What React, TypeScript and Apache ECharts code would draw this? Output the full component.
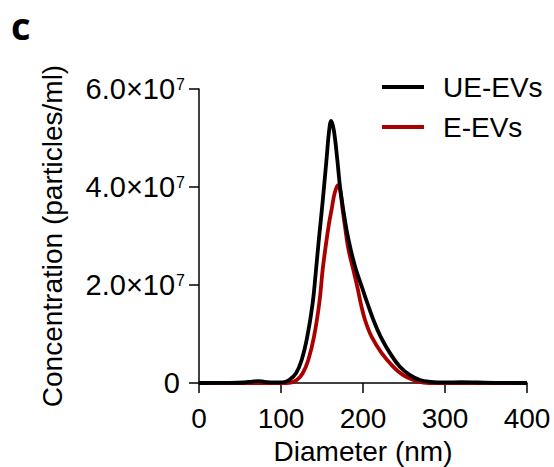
import React, { useEffect, useRef } from "react";
import * as echarts from "echarts";

// Diameter (nm) and concentration (×10^7 particles/ml)
const diameterUE = [0, 30, 55, 65, 72, 80, 90, 100, 104, 110, 118.3, 125.2, 132, 138.6, 142.7, 146, 150.8, 155.7, 158.5, 161.2, 164.5, 168.7, 172, 176, 180, 184, 188, 191.5, 198.4, 205.3, 212.6, 221.6, 232.9, 245, 257.3, 269.5, 281.7, 300, 320, 340, 360, 400];
const concUE = [0, 0.003, 0.01, 0.03, 0.04, 0.025, 0.012, 0.012, 0.02, 0.06, 0.2, 0.47, 0.94, 1.63, 2.31, 2.9, 3.7, 4.6, 5.12, 5.35, 5.15, 4.55, 4.0, 3.53, 3.12, 2.8, 2.52, 2.31, 1.97, 1.63, 1.29, 0.94, 0.61, 0.33, 0.16, 0.06, 0.025, 0.012, 0.015, 0.01, 0.004, 0];

const diameterE = [0, 100, 112, 119.2, 126.5, 133.3, 140.2, 146.7, 150.8, 155, 158.5, 161.8, 165.5, 169.5, 172.5, 175.2, 178, 182, 188.2, 193, 197.2, 202.4, 210.6, 222.8, 237, 249, 261.3, 273.6, 290, 400];
const concE = [0, 0, 0.01, 0.06, 0.2, 0.47, 0.94, 1.63, 2.31, 2.85, 3.25, 3.55, 3.88, 4.04, 3.9, 3.53, 3.2, 2.75, 2.31, 1.97, 1.63, 1.29, 0.94, 0.61, 0.33, 0.16, 0.06, 0.01, 0, 0];

const UNIT = 1e7;
const seriesNames = ["UE-EVs", "E-EVs"];
const xTicks = { min: 0, max: 400, interval: 100 };
const yTicks = { min: 0, max: 6e7, interval: 2e7 };

const FONT = "Liberation Sans, Arial, sans-serif";

export default function App() {
  const ref = useRef<HTMLDivElement>(null);
  useEffect(() => {
    if (!ref.current) return;
    const chart = echarts.init(ref.current, null, { renderer: "svg" });
    const ue = diameterUE.map((d, i) => [d, concUE[i] * UNIT]);
    const e = diameterE.map((d, i) => [d, concE[i] * UNIT]);
    chart.setOption({
      animation: false,
      backgroundColor: "#fff",
      textStyle: { fontFamily: FONT },
      grid: { left: 199, right: 27, top: 89, bottom: 84, containLabel: false, outerBoundsMode: "none" },
      legend: {
        data: seriesNames,
        orient: "vertical",
        left: 377,
        top: 68,
        icon: "rect",
        itemWidth: 42,
        itemHeight: 4,
        itemGap: 12,
        textStyle: { fontSize: 28, color: "#000", fontFamily: FONT, padding: [0, 0, 0, 14] },
      },
      xAxis: {
        type: "value",
        min: xTicks.min,
        max: xTicks.max,
        interval: xTicks.interval,
        name: "Diameter (nm)",
        nameLocation: "middle",
        nameGap: 54,
        nameTextStyle: { fontSize: 28, color: "#000", fontFamily: FONT },
        axisLine: { onZero: false, lineStyle: { color: "#000", width: 1.5 } },
        axisTick: { length: 10, lineStyle: { color: "#000", width: 1.5 } },
        axisLabel: { fontSize: 28, color: "#000", margin: 21, fontFamily: FONT },
        splitLine: { show: false },
      },
      yAxis: {
        type: "value",
        min: yTicks.min,
        max: yTicks.max,
        interval: yTicks.interval,
        name: "Concentration (particles/ml)",
        nameLocation: "middle",
        nameGap: 133,
        nameTextStyle: { fontSize: 28, color: "#000", fontFamily: FONT },
        axisLine: { show: true, lineStyle: { color: "#000", width: 1.5 } },
        axisTick: { show: true, length: 10, lineStyle: { color: "#000", width: 1.5 } },
        axisLabel: {
          margin: 14,
          formatter: (v: number) =>
            v === 0 ? "{z|0}" : `{a|${(v / UNIT).toFixed(1)}×10}{b|7}`,
          rich: {
            a: { fontSize: 29, color: "#000", fontFamily: FONT, lineHeight: 30 },
            b: { fontSize: 16, color: "#000", fontFamily: FONT, verticalAlign: "top", lineHeight: 16, padding: [2, 0, 0, 1] },
            z: { fontSize: 29, color: "#000", fontFamily: FONT, padding: [0, 5, 0, 0] },
          },
        },
        splitLine: { show: false },
      },
      graphic: [
        {
          type: "text",
          left: 11,
          top: 6,
          style: { text: "c", fontSize: 38, fontWeight: "bold", fontFamily: "Open Sans, DejaVu Sans, sans-serif", fill: "#000" },
        },
      ],
      series: [
        {
          name: seriesNames[1],
          type: "line",
          data: e,
          symbol: "none",
          smooth: 0.4,
          lineStyle: { color: "#aa0000", width: 3.8 },
          itemStyle: { color: "#aa0000" },
          z: 2,
        },
        {
          name: seriesNames[0],
          type: "line",
          data: ue,
          symbol: "none",
          smooth: 0.4,
          lineStyle: { color: "#000", width: 3.8 },
          itemStyle: { color: "#000" },
          z: 3,
        },
      ],
    });
    return () => chart.dispose();
  }, []);
  return <div ref={ref} style={{ position: "fixed", left: 0, top: 0, width: 554, height: 467 }} />;
}
